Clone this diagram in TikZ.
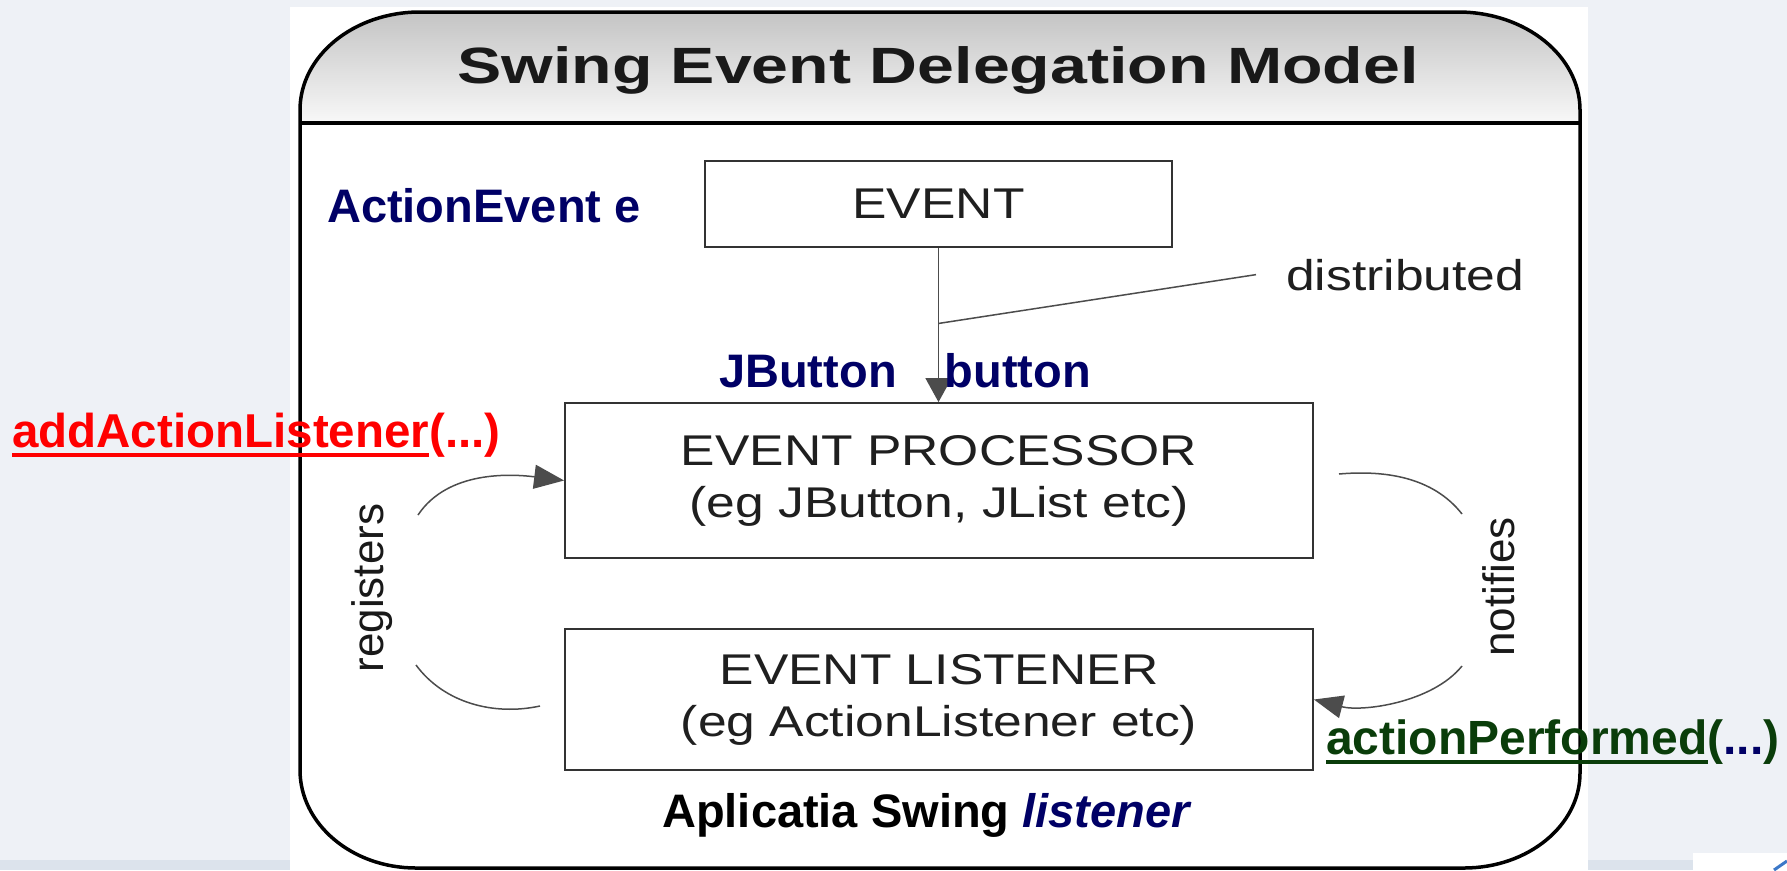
\documentclass[tikz,border=0pt]{standalone}
\usepackage{fontspec}
\setmainfont{Liberation Sans}
\newfontfamily\diagfont{Liberation Sans}[FakeStretch=1.2]
\newfontfamily\titlefont{Liberation Sans}[FakeStretch=1.3]
\newsavebox\ulinebox
\newcommand{\ulabel}[1]{\sbox\ulinebox{#1}\rlap{\rule[-10pt]{\wd\ulinebox}{4pt}}\usebox\ulinebox}
\usetikzlibrary{arrows.meta, calc}
\definecolor{slide-bg}{HTML}{EEF1F6}
\definecolor{slide-band}{HTML}{DCE3EC}
\definecolor{icon-blue}{HTML}{3C78C8}
\definecolor{label-navy}{HTML}{000066}
\definecolor{label-red}{HTML}{FF0000}
\definecolor{label-green}{HTML}{0A3D0A}
\definecolor{head-top}{HTML}{C4C4C4}
\definecolor{head-bottom}{HTML}{F8F8F8}

\begin{document}
\begin{tikzpicture}[
        x=1pt, y=-1pt,
        diag-box/.style={
            draw=black!80,
            line width=1.8pt,
            fill=white,
            rectangle,
            align=center,
            text=black!88,
            font=\diagfont\fontsize{43pt}{52pt}\selectfont,
        },
        diag-text/.style={
            text=black!88,
            font=\diagfont\fontsize{43pt}{52pt}\selectfont,
        },
        side-text/.style={
            text=black!90,
            rotate=90,
            font=\fontsize{44pt}{52pt}\selectfont,
        },
        code-label/.style={
            inner sep=0pt,
            anchor=base west,
            font=\bfseries\fontsize{47pt}{56pt}\selectfont,
        },
        diag-line/.style={
            draw=black!70,
            line width=1.5pt,
        },
    ]
    \useasboundingbox (0,0) rectangle (1787,870);
    \fill[slide-bg] (0,0) rectangle (1787,870);
    \fill[slide-band] (0,860) rectangle (1787,870);
    \fill[white] (290,7) rectangle (1588,870);
    \fill[white] (1693,853) rectangle (1787,870);
    \draw[icon-blue, line width=3pt] (1774,870) -- (1787,861);

    \shade[top color=head-top, bottom color=head-bottom]
        (300,123) -- (300,110) arc[start angle=180, end angle=270, x radius=120, y radius=98]
        -- (1458,12) arc[start angle=270, end angle=360, x radius=122, y radius=98]
        -- (1580,123) -- cycle;
    \draw[line width=3.5pt]
        (300,110) arc[start angle=180, end angle=270, x radius=120, y radius=98]
        -- (1458,12) arc[start angle=270, end angle=360, x radius=122, y radius=98]
        -- (1580,773) arc[start angle=0, end angle=90, x radius=116, y radius=95]
        -- (416,868) arc[start angle=90, end angle=180, x radius=116, y radius=98]
        -- cycle;
    \draw[line width=3.5pt] (300,123) -- (1580,123);

    \node[anchor=base, text=black!90, font=\titlefont\bfseries\fontsize{51pt}{60pt}\selectfont]
        (title) at (938,83) {Swing Event Delegation Model};

    \node[diag-box, minimum width=467pt, minimum height=86pt] (event) at (938.5,204) {EVENT};
    \node[diag-box, minimum width=748pt, minimum height=155pt] (processor) at (939,480.5)
        {EVENT PROCESSOR\\(eg JButton, JList etc)};
    \node[diag-box, minimum width=748pt, minimum height=141pt] (listener) at (939,699.5)
        {EVENT LISTENER\\(eg ActionListener etc)};

    \draw[diag-line, -{Triangle[length=24pt, width=26pt]}] (event.south) -- (event.south |- processor.north);

    \coordinate (split) at ($(event.south)!0.49!(event.south |- processor.north)$);
    \node[diag-text, anchor=base west, inner ysep=0pt, inner xsep=30pt] (distributed) at (1256,290) {distributed};
    \draw[diag-line] (split) -- (distributed.west);

    \coordinate (registers-start) at (418,515);
    \coordinate (registers-low) at (416,665);
    \coordinate (registers-end) at (540,706);
    \draw[diag-line, -{Triangle[length=30pt, width=24pt]}]
        (registers-start) .. controls (448,470) and (512,474) .. (processor.west);
    \draw[diag-line] (registers-low) .. controls (444,703) and (494,716) .. (registers-end);

    \coordinate (notifies-start) at (1339,474);
    \coordinate (notifies-end) at (1462,514);
    \coordinate (notifies-low) at (1462,666);
    \draw[diag-line] (notifies-start) .. controls (1385,470) and (1433,477) .. (notifies-end);
    \draw[diag-line, -{Triangle[length=29pt, width=23pt]}]
        (notifies-low) .. controls (1432,703) and (1362,712) .. (listener.east);

    \node[side-text] (registers) at (372,588) {registers};
    \node[side-text] (notifies) at (1499,587) {notifies};

    \node[code-label, text=label-navy] (action-event) at (327,222) {ActionEvent e};
    \node[code-label, text=label-navy] (button-name) at (719,387) {JButton\hspace{48pt}button};
    \node[code-label, text=label-red, font=\bfseries\fontsize{47.5pt}{56pt}\selectfont]
        (add-listener) at (12,447) {\ulabel{addActionListener}(...)};
    \node[code-label, text=label-green, font=\bfseries\fontsize{48pt}{56pt}\selectfont]
        (action-performed) at (1326,754) {\ulabel{actionPerformed}(\textcolor{label-navy}{...})};
    \node[code-label, anchor=base] (app-name) at (926,827)
        {Aplicatia Swing \textcolor{label-navy}{\itshape listener}};
\end{tikzpicture}
\end{document}
